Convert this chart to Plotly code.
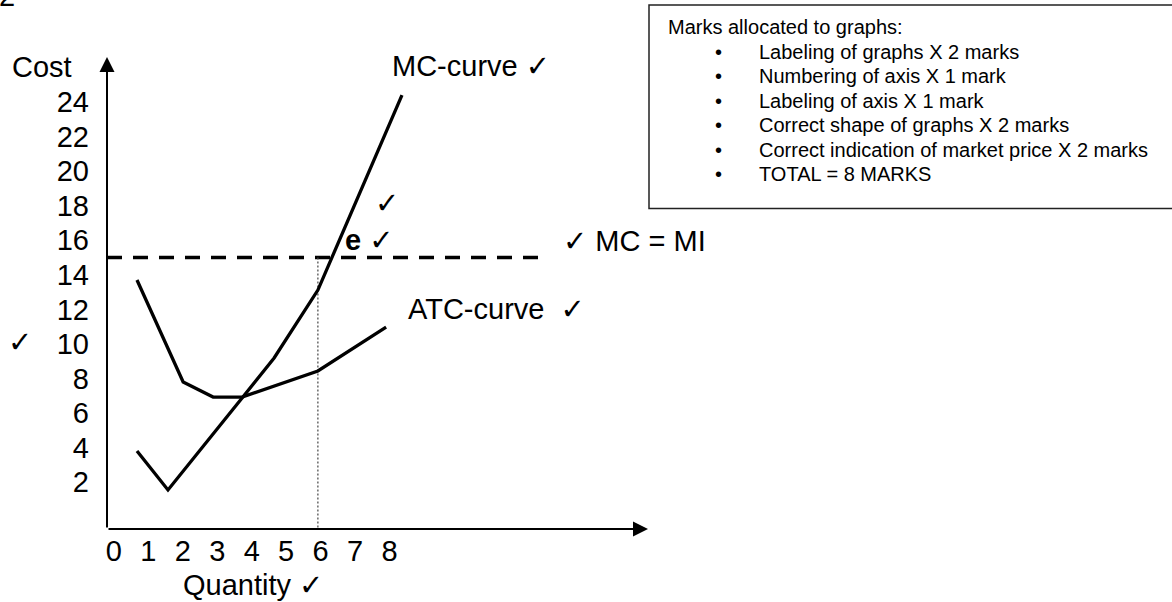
import plotly.graph_objects as go

# ---------------- data ----------------
x_ticks = [0, 1, 2, 3, 4, 5, 6, 7, 8]
y_ticks = [2, 4, 6, 8, 10, 12, 14, 16, 18, 20, 22, 24]

atc_q = [0.67, 2.01, 2.88, 3.72, 5.92, 7.90]
atc_cost = [13.7, 7.8, 6.93, 6.93, 8.44, 10.98]

mc_q = [0.67, 1.57, 3.72, 4.65, 5.92, 8.36]
mc_cost = [3.81, 1.56, 6.88, 9.19, 13.12, 24.4]

market_price = 15
price_line_q = [-0.2, 12.45]
eq_q = 5.92

x_range = [-0.2, 15.5]
y_range = [-0.7, 26.6]

box_title = "Marks allocated to graphs:"
box_items = [
    "Labeling of graphs X 2 marks",
    "Numbering of axis X 1 mark",
    "Labeling of axis X 1 mark",
    "Correct shape of graphs X 2 marks",
    "Correct indication of market price X 2 marks",
    "TOTAL = 8 MARKS",
]

# ---------------- layout geometry ----------------
W, H = 1172, 602
L, R, T, B = 107, 524, 57, 73
PW, PH = W - L - R, H - T - B


def px(x):
    return (x - L) / PW


def py(y):
    return (T + PH - y) / PH


FONT = "Liberation Sans, Arial, DejaVu Sans, sans-serif"
BIG = 29
SMALL = 20

fig = go.Figure()

# price line (dashed)
fig.add_trace(go.Scatter(
    x=price_line_q, y=[market_price, market_price], mode="lines",
    line=dict(color="black", width=3.5, dash="15px,11px"), hoverinfo="skip"))

# dotted vertical at equilibrium quantity
fig.add_trace(go.Scatter(
    x=[eq_q, eq_q], y=[market_price, y_range[0]], mode="lines",
    line=dict(color="#444", width=1.2, dash="2px,2px"), hoverinfo="skip"))

# ATC curve
fig.add_trace(go.Scatter(
    x=atc_q, y=atc_cost, mode="lines",
    line=dict(color="black", width=3.3), hoverinfo="skip"))

# MC curve
fig.add_trace(go.Scatter(
    x=mc_q, y=mc_cost, mode="lines",
    line=dict(color="black", width=3.3), hoverinfo="skip"))

annotations = []

# axes with arrowheads
annotations.append(dict(x=x_range[0], y=y_range[1], ax=x_range[0], ay=y_range[0],
                        xref="x", yref="y", axref="x", ayref="y", text="",
                        showarrow=True, arrowhead=2, arrowsize=1.5, arrowwidth=2,
                        arrowcolor="black"))
annotations.append(dict(x=x_range[1], y=y_range[0], ax=x_range[0], ay=y_range[0],
                        xref="x", yref="y", axref="x", ayref="y", text="",
                        showarrow=True, arrowhead=2, arrowsize=1.5, arrowwidth=2,
                        arrowcolor="black"))


def label(text, x, y, size=BIG, xanchor="left", yanchor="middle"):
    annotations.append(dict(text=text, x=px(x), y=py(y), xref="paper", yref="paper",
                            xanchor=xanchor, yanchor=yanchor, showarrow=False,
                            font=dict(family=FONT, size=size, color="black")))


label("2", -3, 14, yanchor="bottom")
label("Cost", 10, 67)
label("MC-curve ✓", 390, 66)
label("✓", 373, 203)
label("<b>e</b> ✓", 343, 240)
label("✓ MC = MI", 561, 241)
label("ATC-curve  ✓", 406, 309)
label("✓", 6, 342)
label("Quantity ✓", 181, 585)

# marks box
label(box_title, 666, 27, size=SMALL)
for i, item in enumerate(box_items):
    yy = 52 + i * 24.4
    label("•", 718, yy, size=SMALL, xanchor="center")
    label(item, 757, yy, size=SMALL)

fig.add_shape(type="rect", xref="paper", yref="paper",
              x0=px(649), x1=px(1400), y0=py(208.5), y1=py(5),
              line=dict(color="#222", width=1.5), fillcolor="rgba(0,0,0,0)")

fig.update_layout(
    width=W, height=H,
    margin=dict(l=L, r=R, t=T, b=B, pad=0),
    paper_bgcolor="white", plot_bgcolor="white",
    showlegend=False,
    annotations=annotations,
    xaxis=dict(range=x_range, showgrid=False, zeroline=False, showline=False,
               tickvals=x_ticks, ticktext=[str(v) for v in x_ticks], ticks="",
               tickfont=dict(family=FONT, size=BIG, color="black"),
               ticklabelstandoff=2, fixedrange=True),
    yaxis=dict(range=y_range, showgrid=False, zeroline=False, showline=False,
               tickvals=y_ticks, ticktext=[str(v) for v in y_ticks], ticks="",
               tickfont=dict(family=FONT, size=BIG, color="black"),
               ticklabelstandoff=17, fixedrange=True),
)

fig.write_html("out.html", config={"displayModeBar": False},
               post_script="document.body.style.margin='0';document.body.style.overflow='hidden';")
